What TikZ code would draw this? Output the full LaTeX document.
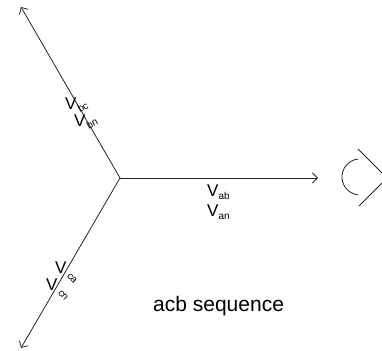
\documentclass[tikz,border=0pt]{standalone}
\usepackage{fontspec}
\setmainfont{Liberation Sans}
\usetikzlibrary{arrows.meta}
\newcommand{\vlab}[2]{V\raisebox{-3pt}{\rotatebox{#2}{\fontsize{10}{10}\selectfont #1}}}
\begin{document}
\begin{tikzpicture}[x=1pt,y=-1pt,
  vec/.style={draw=black!85, line width=0.8pt, -{Straight Barb[length=5pt,width=10pt]}},
  lbl/.style={inner sep=0pt, font=\fontsize{17}{17}\selectfont},
  seq/.style={inner sep=0pt, font=\fontsize{21}{21}\selectfont},
  sym/.style={draw=black!85, line width=0.8pt}
]
\useasboundingbox (0,0) rectangle (382,350);
\coordinate (o) at (120,178);
\coordinate (ta) at (318,178);
\coordinate (tb) at (21,7);
\coordinate (tc) at (21,348);
\draw[vec] (o) -- (ta);
\draw[vec] (o) -- (tb);
\draw[vec] (o) -- (tc);
\node[lbl, anchor=base west] (vab) at (207,196) {\vlab{ab}{0}};
\node[lbl, anchor=base west] (van) at (207,216) {\vlab{an}{0}};
\node[lbl, anchor=base west] (vbc) at (65,110) {\vlab{bc}{30}};
\node[lbl, anchor=base west] (vbn) at (74,126) {\vlab{bn}{30}};
\node[lbl, anchor=base west] (vca) at (55,273) {\vlab{ca}{-50}};
\node[lbl, anchor=base west] (vcn) at (46,290) {\vlab{cn}{-50}};
\node[seq, anchor=base west] (seqt) at (153,311) {acb sequence};
\coordinate (rc) at (360,177);
\draw[sym] (358.4,159) arc[start angle=265, end angle=95, radius=18];
\draw[sym] (358,149) -- (382,173);
\draw[sym] (382,183) -- (359,206);
\end{tikzpicture}
\end{document}
